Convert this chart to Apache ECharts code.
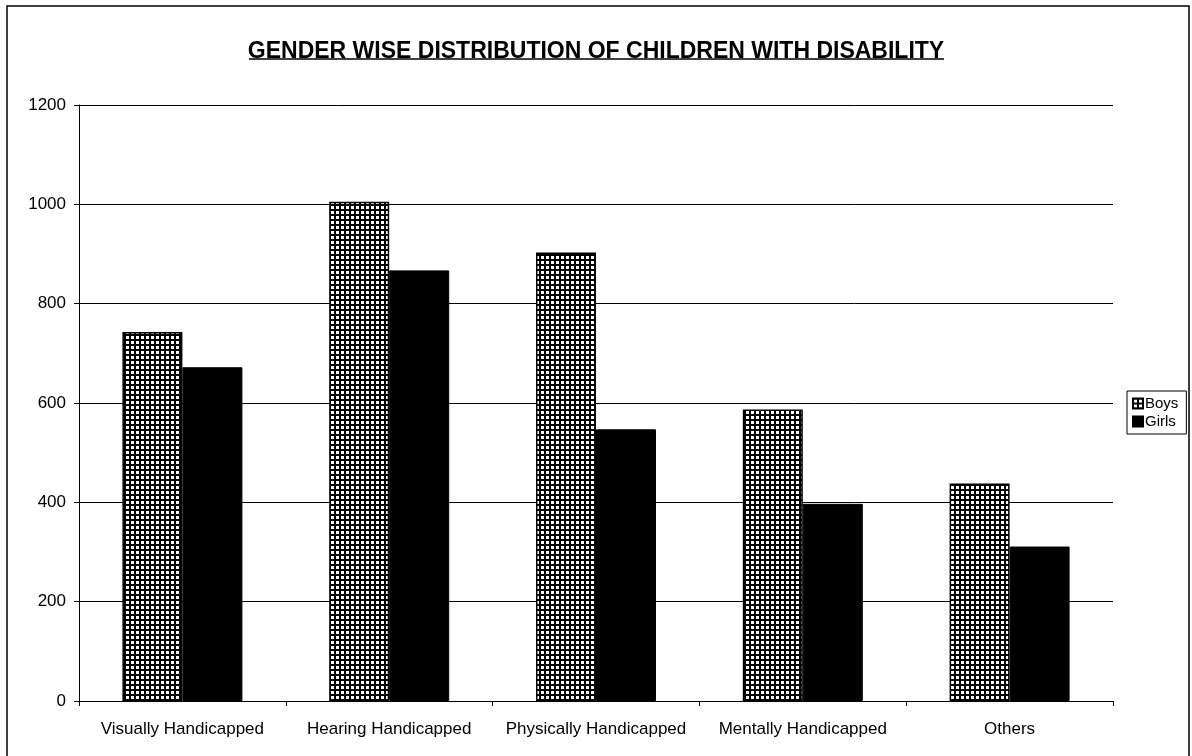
<!DOCTYPE html>
<html>
<head>
<meta charset="utf-8">
<script src="https://cdn.jsdelivr.net/npm/echarts@6/dist/echarts.min.js"></script>
<style>
  html, body { margin: 0; padding: 0; background: #fff; }
  #chart { width: 1192px; height: 756px; }
</style>
</head>
<body>
<div id="chart"></div>
<script>
// Categories of disability and counts per gender
const categories = ['Visually Handicapped', 'Hearing Handicapped', 'Physically Handicapped', 'Mentally Handicapped', 'Others'];
const boys = [743, 1005, 903, 587, 438];
const girls = [672, 867, 547, 397, 311];
const yTicks = [0, 200, 400, 600, 800, 1000, 1200];

// Cross-hatch fill: black lattice with small white cells
function gridPattern() {
  const c = document.createElement('canvas');
  c.width = 5; c.height = 5;
  const ctx = c.getContext('2d');
  ctx.fillStyle = '#000';
  ctx.fillRect(0, 0, 5, 5);
  ctx.fillStyle = '#fff';
  ctx.fillRect(1, 1, 3, 3);
  return { image: c, repeat: 'repeat' };
}

const font = '"Liberation Sans", Arial, sans-serif';
const chart = echarts.init(document.getElementById('chart'), null, { renderer: 'canvas' });

chart.setOption({
  backgroundColor: '#fff',
  animation: false,
  title: {
    text: 'GENDER WISE DISTRIBUTION OF CHILDREN WITH DISABILITY',
    left: 'center',
    top: 35,
    textStyle: { fontFamily: font, fontSize: 23, fontWeight: 'bold', color: '#000' }
  },
  legend: {
    orient: 'vertical',
    left: 1127,
    top: 391,
    padding: [5, 8, 5, 5],
    itemGap: 3,
    itemWidth: 10,
    itemHeight: 10,
    borderColor: '#000',
    borderWidth: 1,
    backgroundColor: '#fff',
    textStyle: { fontFamily: font, fontSize: 15, color: '#000', padding: [0, 0, 0, -3] },
    data: [
      { name: 'Boys', icon: 'rect' },
      { name: 'Girls', icon: 'rect' }
    ]
  },
  grid: { left: 79, right: 79, top: 105, bottom: 55, containLabel: false },
  xAxis: {
    type: 'category',
    data: categories,
    axisLine: { lineStyle: { color: '#000', width: 1 } },
    axisTick: { show: true, length: 5, interval: 0, lineStyle: { color: '#000' } },
    axisLabel: { fontFamily: font, fontSize: 17, color: '#000', margin: 20, interval: 0, hideOverlap: false }
  },
  yAxis: {
    type: 'value',
    min: yTicks[0],
    max: yTicks[yTicks.length - 1],
    interval: yTicks[1] - yTicks[0],
    axisLine: { show: true, lineStyle: { color: '#000', width: 1 } },
    axisTick: { show: true, length: 5, inside: false, lineStyle: { color: '#000' } },
    axisLabel: { fontFamily: font, fontSize: 17, color: '#000', margin: 13, formatter: v => String(v) },
    splitLine: { show: true, lineStyle: { color: '#000', width: 1 } }
  },
  series: [
    {
      name: 'Boys',
      type: 'bar',
      data: boys,
      barWidth: 60,
      barGap: '0%',
      itemStyle: { color: gridPattern(), borderColor: '#000', borderWidth: 1.5 }
    },
    {
      name: 'Girls',
      type: 'bar',
      data: girls,
      barWidth: 60,
      barGap: '0%',
      itemStyle: { color: '#000', borderColor: '#000', borderWidth: 1 }
    }
  ],
  graphic: [
    // outer chart frame
    { type: 'polyline', shape: { points: [[7, 760], [7, 6], [1189, 6], [1189, 760]] },
      style: { stroke: '#000', lineWidth: 1.5, fill: null }, silent: true },
    // title underline
    { type: 'line', shape: { x1: 249, y1: 59, x2: 944, y2: 59 },
      style: { stroke: '#000', lineWidth: 1.5 }, silent: true }
  ]
});
</script>
</body>
</html>
